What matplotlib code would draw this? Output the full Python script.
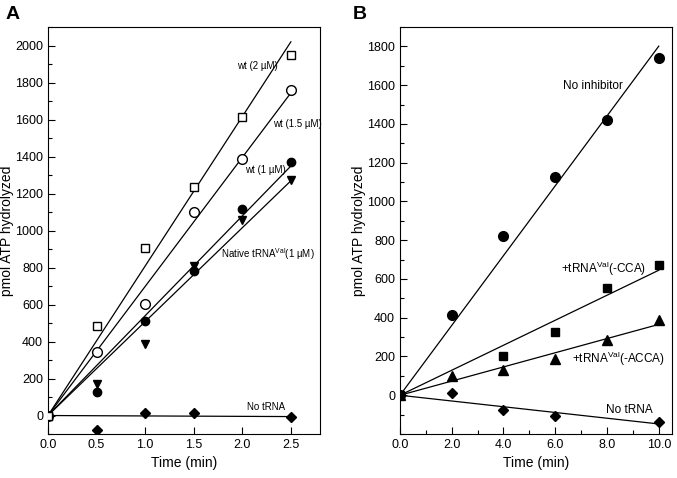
import matplotlib
matplotlib.use("Agg")
import matplotlib.pyplot as plt
import numpy as np
from matplotlib.ticker import MultipleLocator

plt.rcParams['font.family'] = ['Liberation Sans', 'DejaVu Sans']
plt.rcParams['mathtext.fontset'] = 'custom'
plt.rcParams['mathtext.rm'] = 'Liberation Sans'

# panel A data
tA = [0.0, 0.5, 1.0, 1.5, 2.0, 2.5]
wt2 = [0, 485, 904, 1236, 1616, 1951]
wt15 = [0, 341, 605, 1100, 1387, 1757]
wt1 = [0, 129, 510, 783, 1118, 1373]
native = [0, 172, 386, 808, 1057, 1272]
tA_no = [0.0, 0.5, 1.0, 1.5, 2.5]
notrnaA = [0, -79, 14, 14, -7]

# panel B data
tB = [0, 2, 4, 6, 8, 10]
noinh = [0, 416, 823, 1125, 1418, 1741]
tB_cca = [0, 4, 6, 8, 10]
cca = [0, 205, 327, 554, 672]
acca = [0, 99, 129, 189, 287, 390]
tB_no = [0, 2, 4, 6, 10]
notrnaB = [0, 12, -74, -108, -139]


def fit_line(ax, x, y, xend):
    # least squares through origin
    x = np.array(x, float)
    y = np.array(y, float)
    k = (x * y).sum() / (x * x).sum()
    ax.plot([0, xend], [0, k * xend], color='black', lw=0.9, zorder=1)


fig = plt.figure(figsize=(6.77, 4.78), dpi=100)
axA = fig.add_axes([0.0709, 0.092, 0.4018, 0.8515])
axB = fig.add_axes([0.5908, 0.092, 0.4014, 0.8515])

ms = 6
for x, y in [(tA, wt2), (tA, wt15), (tA, wt1), (tA, native), (tA_no, notrnaA)]:
    fit_line(axA, x, y, 2.5)
axA.plot(tA, wt2, 's', mfc='white', mec='black', mew=1.0, ms=ms, zorder=3)
axA.plot(tA, wt15, 'o', mfc='white', mec='black', mew=1.0, ms=ms + 1, zorder=3)
axA.plot(tA, wt1, 'o', color='black', ms=ms, zorder=3)
axA.plot(tA, native, 'v', color='black', ms=ms, zorder=3)
axA.plot(tA_no, notrnaA, 'D', color='black', ms=ms - 1, zorder=3)
axA.plot([0], [0], 's', mfc='white', mec='black', mew=1.0, ms=ms, zorder=4)

axA.set_xlim(0, 2.8)
axA.set_ylim(-100, 2100)
axA.set_xticks([0, 0.5, 1.0, 1.5, 2.0, 2.5])
axA.set_xticklabels(['0.0', '0.5', '1.0', '1.5', '2.0', '2.5'])
axA.set_yticks(range(0, 2001, 200))
axA.yaxis.set_minor_locator(MultipleLocator(100))

fs = 7
axA.text(1.95, 1887, 'wt (2 µM)', fontsize=fs, ha='left', va='center')
axA.text(2.32, 1574, 'wt (1.5 µM)', fontsize=fs, ha='left', va='center')
axA.text(2.03, 1326, 'wt (1 µM)', fontsize=fs, ha='left', va='center')
axA.text(1.78, 870, r'Native tRNA$^{\mathrm{Val}}$(1 µM)', fontsize=fs, ha='left', va='center')
axA.text(2.05, 48, 'No tRNA', fontsize=fs, ha='left', va='center')

for x, y in [(tB, noinh), (tB_cca, cca), (tB, acca), (tB_no, notrnaB)]:
    fit_line(axB, x, y, 10)
msB = 7
axB.plot(tB, noinh, 'o', color='black', ms=msB, zorder=3)
axB.plot(tB_cca, cca, 's', color='black', ms=msB - 1, zorder=3)
axB.plot(tB, acca, '^', color='black', ms=msB - 0.5, zorder=3)
axB.plot(tB_no, notrnaB, 'D', color='black', ms=msB - 2, zorder=3)

axB.set_xlim(0, 10.5)
axB.set_ylim(-200, 1900)
axB.set_xticks([0, 2, 4, 6, 8, 10])
axB.set_xticklabels(['0.0', '2.0', '4.0', '6.0', '8.0', '10.0'])
axB.xaxis.set_minor_locator(MultipleLocator(1))
axB.set_yticks(range(0, 1801, 200))
axB.yaxis.set_minor_locator(MultipleLocator(100))

fsB = 8.5
axB.text(6.31, 1597, 'No inhibitor', fontsize=fsB, ha='left', va='center')
axB.text(6.23, 653, r'+tRNA$^{\mathrm{Val}}$(-CCA)', fontsize=fsB, ha='left', va='center')
axB.text(6.66, 189, r'+tRNA$^{\mathrm{Val}}$(-ACCA)', fontsize=fsB, ha='left', va='center')
axB.text(7.97, -74, 'No tRNA', fontsize=fsB, ha='left', va='center')

for ax in (axA, axB):
    ax.tick_params(which='both', direction='in', labelsize=9, width=0.8)
    ax.tick_params(which='major', length=5)
    ax.tick_params(which='minor', length=3)
    ax.set_xlabel('Time (min)', fontsize=10)
    ax.set_ylabel('pmol ATP hydrolyzed', fontsize=10, labelpad=1)
    for s in ax.spines.values():
        s.set_linewidth(0.8)

fig.text(0.008, 0.97, 'A', fontsize=14, fontweight='bold', va='center')
fig.text(0.521, 0.97, 'B', fontsize=14, fontweight='bold', va='center')

fig.savefig('out.png', dpi=100)
